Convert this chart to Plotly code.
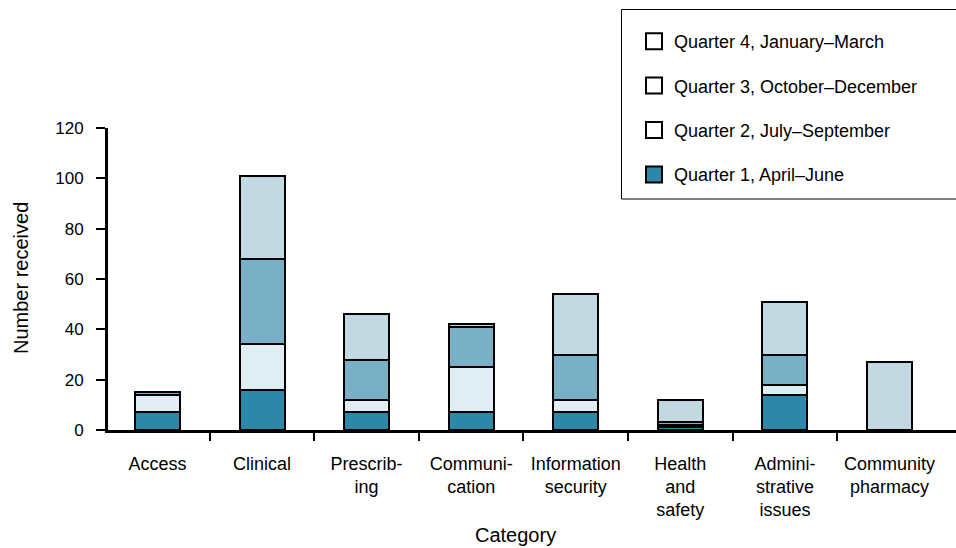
import plotly.graph_objects as go

# Complaint categories (line breaks follow the printed hyphenation)
categories = [
    "Access",
    "Clinical",
    "Prescrib-<br>ing",
    "Communi-<br>cation",
    "Information<br>security",
    "Health<br>and<br>safety",
    "Admini-<br>strative<br>issues",
    "Community<br>pharmacy",
]

# Number received per quarter
q1_apr_jun = [7, 16, 7, 7, 7, 1, 14, 0]
q2_jul_sep = [7, 18, 5, 18, 5, 1, 4, 0]
q3_oct_dec = [1, 34, 16, 16, 18, 1, 12, 0]
q4_jan_mar = [0, 33, 18, 1, 24, 9, 21, 27]

series = [
    ("Quarter 1, April\u2013June", q1_apr_jun, "#2e87a9"),
    ("Quarter 2, July\u2013September", q2_jul_sep, "#e0edf2"),
    ("Quarter 3, October\u2013December", q3_oct_dec, "#78b1c5"),
    ("Quarter 4, January\u2013March", q4_jan_mar, "#c2d9e1"),
]

# Legend swatches: only the first quarter is shaded, the rest are open boxes
legend_fill = {
    "Quarter 1, April\u2013June": "#2e87a9",
    "Quarter 2, July\u2013September": "white",
    "Quarter 3, October\u2013December": "white",
    "Quarter 4, January\u2013March": "white",
}

FONT = "Liberation Sans, Arial, sans-serif"
positions = list(range(len(categories)))

fig = go.Figure()

for name, values, color in series:
    fig.add_trace(go.Bar(
        x=positions,
        y=values,
        name=name,
        width=0.43,
        marker=dict(color=color, line=dict(color="black", width=2)),
        showlegend=False,
        hoverinfo="skip",
    ))

# Legend entries, listed top-down from the last quarter to the first
for i, (name, _, _) in enumerate(reversed(series)):
    fig.add_trace(go.Scatter(
        x=[None], y=[None],
        mode="markers",
        name=name,
        legendgroup=f"g{i}",
        marker=dict(symbol="square", size=16, color=legend_fill[name],
                    line=dict(color="black", width=2)),
        showlegend=True,
    ))

L, R, T, B = 108, 0, 128, 118
W, H = 956, 548
pw, ph = W - L - R, H - T - B


def px_x(x):
    return (x - L) / pw


def px_y(y):
    return (H - B - y) / ph


fig.update_layout(
    width=W, height=H, autosize=False,
    margin=dict(l=L, r=R, t=T, b=B, pad=0),
    paper_bgcolor="white", plot_bgcolor="white",
    barmode="stack",
    font=dict(family=FONT, size=18, color="black"),
    showlegend=True,
    legend=dict(
        x=px_x(634), y=px_y(23), xanchor="left", yanchor="top",
        traceorder="grouped", tracegroupgap=18,
        font=dict(family=FONT, size=18, color="black"),
        bgcolor="rgba(0,0,0,0)", borderwidth=0,
    ),
    xaxis=dict(
        range=[-0.473, 7.636],
        tickmode="array", tickvals=positions, ticktext=categories,
        ticks="", showgrid=False, zeroline=False,
        showline=True, linecolor="black", linewidth=3,
        tickfont=dict(family=FONT, size=18, color="black"),
        ticklabelstandoff=15,
        minor=dict(tickmode="array", tickvals=[p - 0.5 for p in positions],
                   ticks="outside", ticklen=8, tickwidth=1.5, tickcolor="black",
                   showgrid=False),
    ),
    yaxis=dict(
        range=[0, 120], tickmode="linear", tick0=0, dtick=20,
        ticks="outside", ticklen=9, tickwidth=1.5, tickcolor="black",
        showgrid=False, zeroline=False,
        showline=True, linecolor="black", linewidth=3,
        tickfont=dict(family=FONT, size=17, color="black"),
        ticklabelstandoff=9,
    ),
    shapes=[
        dict(type="rect", xref="paper", yref="paper",
             x0=px_x(621.5), x1=px_x(962), y0=px_y(199), y1=px_y(9.5),
             line=dict(color="black", width=1), fillcolor="rgba(0,0,0,0)",
             layer="above"),
    ],
    annotations=[
        dict(text="Category", xref="paper", yref="paper",
             x=px_x(515.5), y=px_y(535), xanchor="center", yanchor="middle",
             showarrow=False, font=dict(family=FONT, size=20, color="black")),
        dict(text="Number received", xref="paper", yref="paper",
             x=px_x(21), y=px_y(278), xanchor="center", yanchor="middle",
             textangle=-90, showarrow=False,
             font=dict(family=FONT, size=20, color="black")),
    ],
)

fig.write_html("out.html")
